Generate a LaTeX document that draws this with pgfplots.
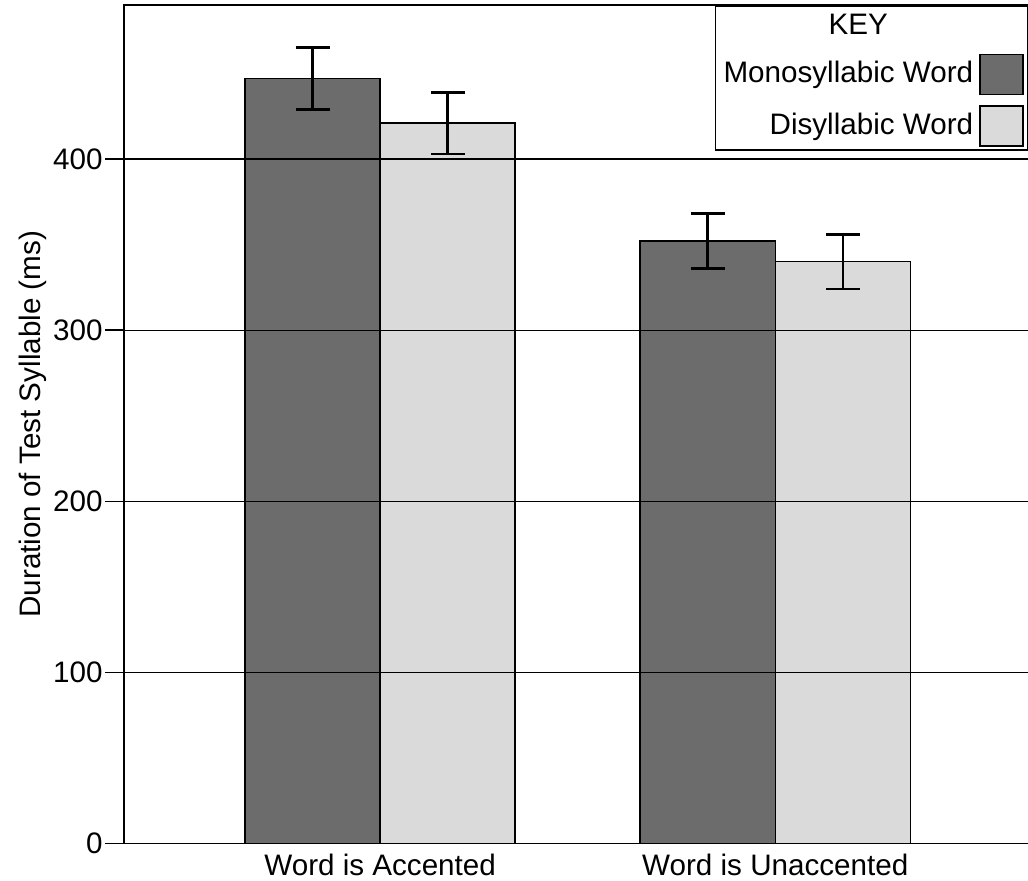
\documentclass[border=0pt]{standalone}
\usepackage{fontspec}
\setmainfont{Liberation Sans}
\usepackage{pgfplots}
\pgfplotsset{compat=1.18}
\usetikzlibrary{calc}

\definecolor{monogray}{RGB}{108,108,108}
\definecolor{digray}{RGB}{218,218,218}

\newlength\keywidth

\begin{document}%
\fontsize{14.8}{17}\selectfont%
\settowidth\keywidth{Monosyllabic Word}%
\begin{tikzpicture}[font=\fontsize{14.8}{17}\selectfont]
\begin{axis}[
  scale only axis,
  width=452pt, height=419pt,
  xmin=-0.648, xmax=1.641,
  ymin=0, ymax=490,
  xtick={0,1},
  xticklabels={Word is Accented, Word is Unaccented},
  x tick style={draw=none},
  xticklabel style={yshift=9.5pt},
  ytick={0,100,200,300,400},
  ytick pos=left,
  tick align=outside,
  major tick length=9.5pt,
  y tick style={black, line width=0.7pt},
  yticklabel style={inner sep=1pt},
  ymajorgrids,
  grid style={black, line width=0.6pt},
  axis line style={black, line width=0.8pt},
  axis on top,
  /pgf/number format/assume math mode=true,
  ylabel={Duration of Test Syllable (ms)},
  ylabel style={at={(axis description cs:-0.1007,0.5)}, anchor=center},
  legend style={at={(1,1)}, anchor=north east, draw=black, line width=0.8pt,
    fill=white, inner xsep=2pt, inner ysep=1.5pt, row sep=5pt,
    column sep=1pt, font=\fontsize{14.8}{17}\selectfont},
  legend cell align=right,
  legend plot pos=right,
  error bars/error bar style={black, line width=1.3pt},
  error bars/error mark options={rotate=90, mark size=8.5pt, black, line width=1.3pt},
]
\addlegendimage{empty legend}
\addlegendentry[text width=\keywidth, align=center, inner ysep=2.5pt]{\hspace*{10pt}KEY}

% monosyllabic word
\addplot[ybar, bar width=0.342, bar shift=0pt, fill=monogray, draw=black, line width=0.8pt,
  legend image code/.code={\draw[fill=monogray, draw=black, line width=0.8pt] (0pt,-10pt) rectangle (21.5pt,10pt);},
  error bars/.cd, y dir=both, y explicit]
  coordinates {
    (-0.171,447) +- (0,18)
    (0.829,352) +- (0,16)
  };
\addlegendentry{Monosyllabic Word}

% disyllabic word
\addplot[ybar, bar width=0.342, bar shift=0pt, fill=digray, draw=black, line width=0.8pt,
  legend image code/.code={\draw[fill=digray, draw=black, line width=0.8pt] (0pt,-10pt) rectangle (21.5pt,10pt);},
  error bars/.cd, y dir=both, y explicit]
  coordinates {
    (0.171,421) +- (0,18)
    (1.171,340) +- (0,16)
  };
\addlegendentry{Disyllabic Word}

\coordinate (ll) at (rel axis cs:0,0);
\coordinate (ur) at (rel axis cs:1,1);
\end{axis}
\pgfresetboundingbox
\path[use as bounding box] ($(ll)+(-62pt,-18.5pt)$) rectangle ($(ur)+(-0.3pt,2.5pt)$);
\end{tikzpicture}%
\end{document}
